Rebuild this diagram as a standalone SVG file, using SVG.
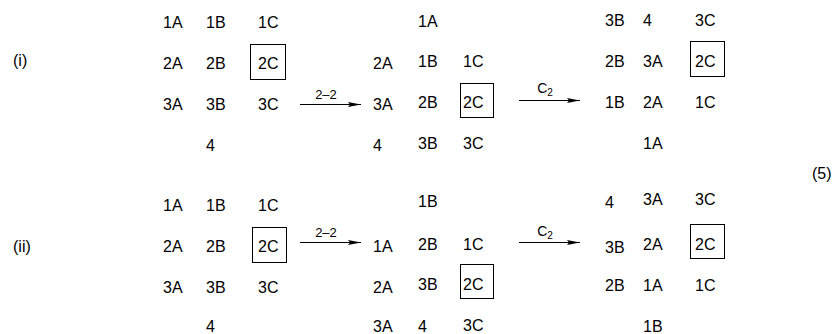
<svg xmlns="http://www.w3.org/2000/svg" width="835" height="334" viewBox="0 0 835 334">
<defs>
<style>
text{font-family:"Liberation Sans",Arial,sans-serif;font-size:16px;fill:#000}
.lbl{font-size:13px;text-anchor:middle}
.c2{font-size:14px}
.sub{font-size:10px}
.box{fill:none;stroke:#000;stroke-width:1}
.arr{stroke:#000;stroke-width:1;fill:none}
</style>
<marker id="ah" viewBox="0 0 13 5" refX="13" refY="2.5" markerWidth="13" markerHeight="5" markerUnits="userSpaceOnUse" orient="auto"><path d="M0,0 L13,2.5 L0,5 L2,2.5 z" fill="#000"/></marker>
</defs>
<text x="13" y="66">(i)</text>
<text x="13" y="252">(ii)</text>
<text x="812" y="179">(5)</text>

<g id="i-g1">
<text x="163" y="28">1A</text><text x="206" y="28">1B</text><text x="258" y="28">1C</text>
<text x="163" y="69">2A</text><text x="206" y="69">2B</text><text x="258" y="69">2C</text>
<rect class="box" x="250.5" y="44.5" width="35" height="35"/>
<text x="163" y="110">3A</text><text x="206" y="110">3B</text><text x="258" y="110">3C</text>
<text x="206" y="151">4</text>
</g>
<g id="i-g2">
<text x="418" y="27">1A</text>
<text x="373" y="69">2A</text><text x="418" y="67">1B</text><text x="463" y="67">1C</text>
<text x="373" y="110">3A</text><text x="418" y="108">2B</text><text x="463" y="108">2C</text>
<rect class="box" x="460.5" y="83.5" width="33" height="34"/>
<text x="373" y="151">4</text><text x="418" y="149">3B</text><text x="463" y="149">3C</text>
</g>
<g id="i-g3">
<text x="605" y="26">3B</text><text x="643" y="26">4</text><text x="695" y="26">3C</text>
<text x="605" y="67">2B</text><text x="643" y="67">3A</text><text x="695" y="67">2C</text>
<rect class="box" x="690.5" y="41.5" width="34" height="35"/>
<text x="605" y="108">1B</text><text x="643" y="108">2A</text><text x="695" y="108">1C</text>
<text x="643" y="149">1A</text>
</g>

<g id="ii-g1">
<text x="163" y="211">1A</text><text x="206" y="211">1B</text><text x="258" y="211">1C</text>
<text x="163" y="252">2A</text><text x="206" y="252">2B</text><text x="258" y="252">2C</text>
<rect class="box" x="252.5" y="227.5" width="34" height="35"/>
<text x="163" y="293">3A</text><text x="206" y="293">3B</text><text x="258" y="293">3C</text>
<text x="206" y="332">4</text>
</g>
<g id="ii-g2">
<text x="418" y="207">1B</text>
<text x="373" y="252">1A</text><text x="418" y="250">2B</text><text x="463" y="250">1C</text>
<text x="373" y="293">2A</text><text x="418" y="290">3B</text><text x="463" y="290">2C</text>
<rect class="box" x="460.5" y="264.5" width="33" height="34"/>
<text x="373" y="332">3A</text><text x="418" y="332">4</text><text x="463" y="331">3C</text>
</g>
<g id="ii-g3">
<text x="605" y="208">4</text><text x="643" y="205">3A</text><text x="695" y="205">3C</text>
<text x="605" y="253">3B</text><text x="643" y="250">2A</text><text x="695" y="250">2C</text>
<rect class="box" x="690.5" y="224.5" width="34" height="34"/>
<text x="605" y="291">2B</text><text x="643" y="291">1A</text><text x="695" y="291">1C</text>
<text x="643" y="332">1B</text>
</g>

<g id="connectors">
<line class="arr" x1="300" y1="104.5" x2="361" y2="104.5" marker-end="url(#ah)"/>
<text class="lbl" x="326" y="99">2–2</text>
<line class="arr" x1="519" y1="100.5" x2="580" y2="100.5" marker-end="url(#ah)"/>
<text class="lbl c2" x="545" y="93">C<tspan class="sub" dy="3">2</tspan></text>
<line class="arr" x1="300" y1="242.5" x2="361" y2="242.5" marker-end="url(#ah)"/>
<text class="lbl" x="326" y="237">2–2</text>
<line class="arr" x1="519" y1="242.5" x2="580" y2="242.5" marker-end="url(#ah)"/>
<text class="lbl c2" x="545" y="236">C<tspan class="sub" dy="3">2</tspan></text>
</g>
</svg>
